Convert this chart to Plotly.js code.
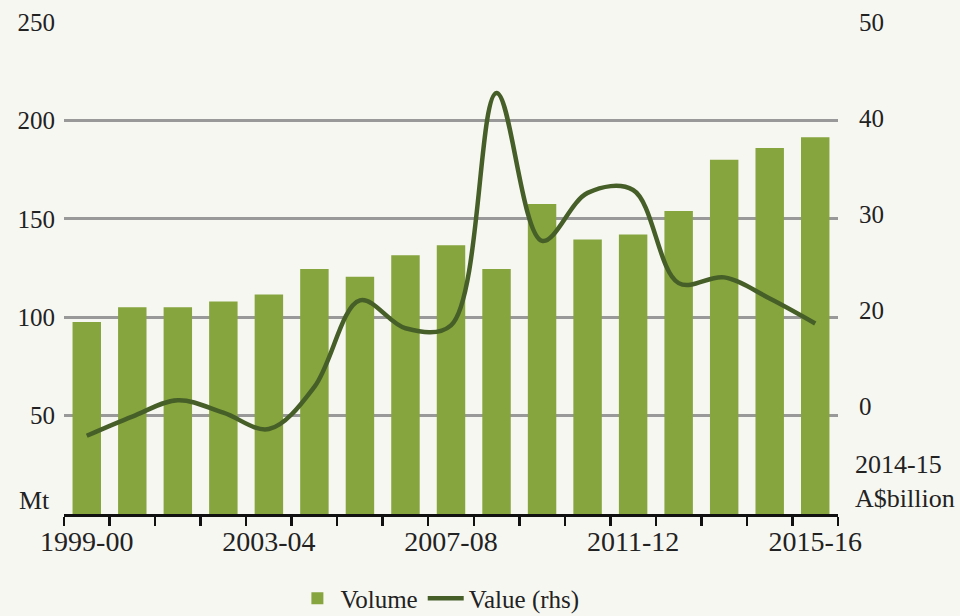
<!DOCTYPE html>
<html>
<head>
<meta charset="utf-8">
<script src="https://cdn.plot.ly/plotly-3.0.1.min.js"></script>
<style>
html,body{margin:0;padding:0;background:#f7f7f2;}
#chart{width:960px;height:616px;}
</style>
</head>
<body>
<div id="chart"></div>
<script>
const years = ["1999-00","2000-01","2001-02","2002-03","2003-04","2004-05","2005-06","2006-07","2007-08","2008-09","2009-10","2010-11","2011-12","2012-13","2013-14","2014-15","2015-16"];
const volumeMt = [97.5,105,105,108,111.5,124.5,120.5,131.5,136.5,124.5,157.5,139.5,142,154,180,186,191.5];
const valueBillion = [6.9,8.9,10.6,9.3,7.6,12.0,21.0,18.1,18.4,42.6,27.2,32.2,32.5,22.8,23.4,21.2,18.6];
const xLabelYears = ["1999-00","2003-04","2007-08","2011-12","2015-16"];
const leftTicks = [50,100,150,200,250];
const rightTicks = [10,20,30,40,50];
const rightTickText = ["0","20","30","40","50"];

const FONT = "Liberation Serif, Times New Roman, serif";
const TXT = "#222222";

const traces = [
  {
    type: "bar", name: "Volume", x: years, y: volumeMt,
    marker: {color: "#86a53e"}, yaxis: "y"
  },
  {
    type: "scatter", mode: "lines", name: "Value (rhs)", x: years, y: valueBillion,
    line: {color: "#465f28", width: 4.5, shape: "spline", smoothing: 1},
    yaxis: "y2"
  }
];

const layout = {
  width: 960, height: 616,
  paper_bgcolor: "#f7f7f2", plot_bgcolor: "#f7f7f2",
  margin: {l: 64, r: 122, t: 22, b: 102, autoexpand: false},
  bargap: 0.375,
  showlegend: true,
  font: {family: FONT, color: TXT, size: 26},
  legend: {
    orientation: "h", x: 0.485, xanchor: "center", y: -0.172, yanchor: "middle",
    font: {family: FONT, size: 25, color: TXT}, bgcolor: "rgba(0,0,0,0)",
    itemwidth: 36, tracegroupgap: 0
  },
  xaxis: {
    type: "category", automargin: false,
    tickmode: "array", tickvals: years,
    ticktext: years.map(y => xLabelYears.includes(y) ? y : ""),
    tickson: "boundaries",
    ticks: "outside", ticklen: 9, tickwidth: 2.5, tickcolor: "#111",
    showline: true, linecolor: "#111", linewidth: 3,
    showgrid: false, zeroline: false,
    tickangle: 0,
    tickfont: {family: FONT, size: 28, color: TXT}
  },
  yaxis: {
    range: [0, 250], tickmode: "array", tickvals: leftTicks, automargin: false,
    showgrid: true, gridcolor: "#999999", gridwidth: 3,
    zeroline: false, showline: false, ticks: "",
    ticklabelstandoff: 8,
    tickfont: {family: FONT, size: 25, color: TXT}
  },
  yaxis2: {
    overlaying: "y", side: "right", automargin: false,
    range: [-1.25, 50], tickmode: "array", tickvals: rightTicks, ticktext: rightTickText,
    showgrid: false, zeroline: false, showline: false, ticks: "",
    ticklabelstandoff: 20,
    tickfont: {family: FONT, size: 25, color: TXT}
  },
  annotations: [
    {text: "Mt", xref: "paper", yref: "paper", x: -0.0155, y: 0.028,
     xanchor: "right", yanchor: "middle", showarrow: false,
     font: {family: FONT, size: 26, color: TXT}},
    {text: "2014-15<br>A$billion", xref: "paper", yref: "paper", x: 1.019, y: 0.067,
     xanchor: "left", yanchor: "middle", align: "left", showarrow: false,
     font: {family: FONT, size: 26, color: TXT}}
  ]
};

Plotly.newPlot("chart", traces, layout, {displayModeBar: false, staticPlot: true});
</script>
</body>
</html>
